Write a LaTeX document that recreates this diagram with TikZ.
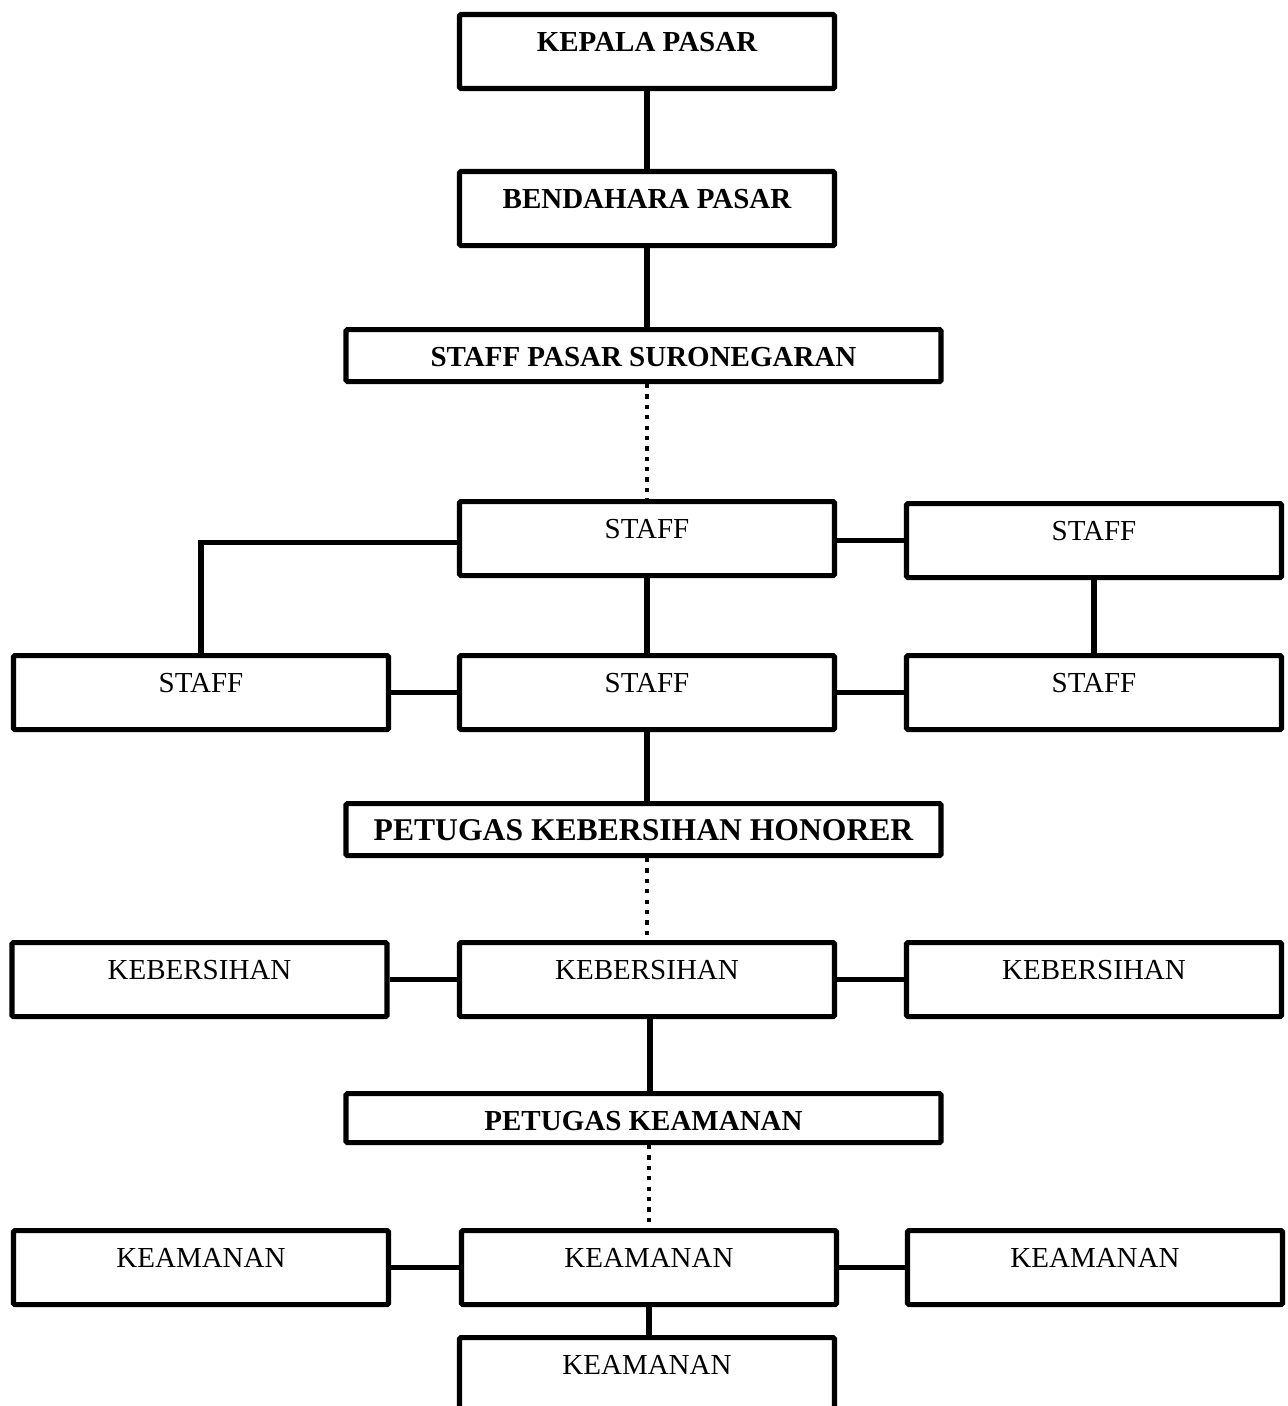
\documentclass[tikz,border=0pt]{standalone}
\usepackage{fontspec}
\setmainfont{Liberation Serif}
\usepackage{tikz}

\begin{document}
\begin{tikzpicture}[auto,
    kotak/.style={draw,line width=2.9pt,rounded corners=0.8pt,anchor=north,inner sep=0pt,
      minimum width=7.5cm,text height=0.74cm,text depth=0.74cm,font=\fontsize{16.5}{19}\selectfont},
    lebar/.style={kotak,minimum width=11.9cm,text depth=0.30cm,font=\fontsize{16.5}{19}\selectfont\bfseries},
    garis/.style={line width=2.9pt},
    titik/.style={line width=2.5pt,dash pattern=on 2.4pt off 3.5pt}]
    \useasboundingbox (0,0) rectangle (25.74,-28.12);

    \node[kotak,font=\fontsize{16.5}{19}\selectfont\bfseries] (ka) at (12.94,-0.24) {KEPALA PASAR};
    \node[kotak,font=\fontsize{16.5}{19}\selectfont\bfseries] (kb) at (12.94,-3.38) {BENDAHARA PASAR};
    \node[lebar] (kc) at (12.87,-6.54) {STAFF PASAR SURONEGARAN};

    \node[kotak] (sa) at (12.94,-9.98) {STAFF};
    \node[kotak] (sb) at (21.88,-10.02) {STAFF};
    \node[kotak] (sc) at (4.02,-13.06) {STAFF};
    \node[kotak] (sd) at (12.94,-13.06) {STAFF};
    \node[kotak] (se) at (21.88,-13.06) {STAFF};

    \node[lebar,text depth=0.30cm,font=\fontsize{18}{21}\selectfont\bfseries] (ha) at (12.87,-16.02) {PETUGAS KEBERSIHAN HONORER};

    \node[kotak] (ba) at (3.99,-18.80) {KEBERSIHAN};
    \node[kotak] (bb) at (12.94,-18.80) {KEBERSIHAN};
    \node[kotak] (bc) at (21.88,-18.80) {KEBERSIHAN};

    \node[lebar,text depth=0.24cm] (pk) at (12.87,-21.82) {PETUGAS KEAMANAN};

    \node[kotak] (ma) at (4.02,-24.56) {KEAMANAN};
    \node[kotak] (mb) at (12.98,-24.56) {KEAMANAN};
    \node[kotak] (mc) at (21.90,-24.56) {KEAMANAN};
    \node[kotak] (md) at (12.94,-26.70) {KEAMANAN};

    \draw[garis] (ka.south) -- (kb.north);
    \draw[garis] (kb.south) -- (kb.south |- kc.north);
    \draw[titik] (kc.south -| sa.north) -- (sa.north);

    \draw[garis] ([yshift=-0.08cm]sa.west) -| (sc.north);
    \draw[garis] (sb.west -| sa.east) -- (sb.west);
    \draw[garis] (sa.south) -- (sd.north);
    \draw[garis] (sb.south) -- (se.north);
    \draw[garis] (sc.east) -- (sd.west);
    \draw[garis] (sd.east) -- (se.west);

    \draw[garis] (sd.south) -- (sd.south |- ha.north);
    \draw[titik] (ha.south -| bb.north) -- (bb.north);
    \draw[garis] (ba.east) -- (bb.west);
    \draw[garis] (bb.east) -- (bc.west);

    \draw[garis] ([xshift=0.06cm]bb.south) -- ([xshift=0.06cm]bb.south |- pk.north);
    \draw[titik] (pk.south -| mb.north) -- (mb.north);
    \draw[garis] (ma.east) -- (mb.west);
    \draw[garis] (mb.east) -- (mc.west);
    \draw[garis] (mb.south) -- (mb.south |- md.north);

\end{tikzpicture}
\end{document}
